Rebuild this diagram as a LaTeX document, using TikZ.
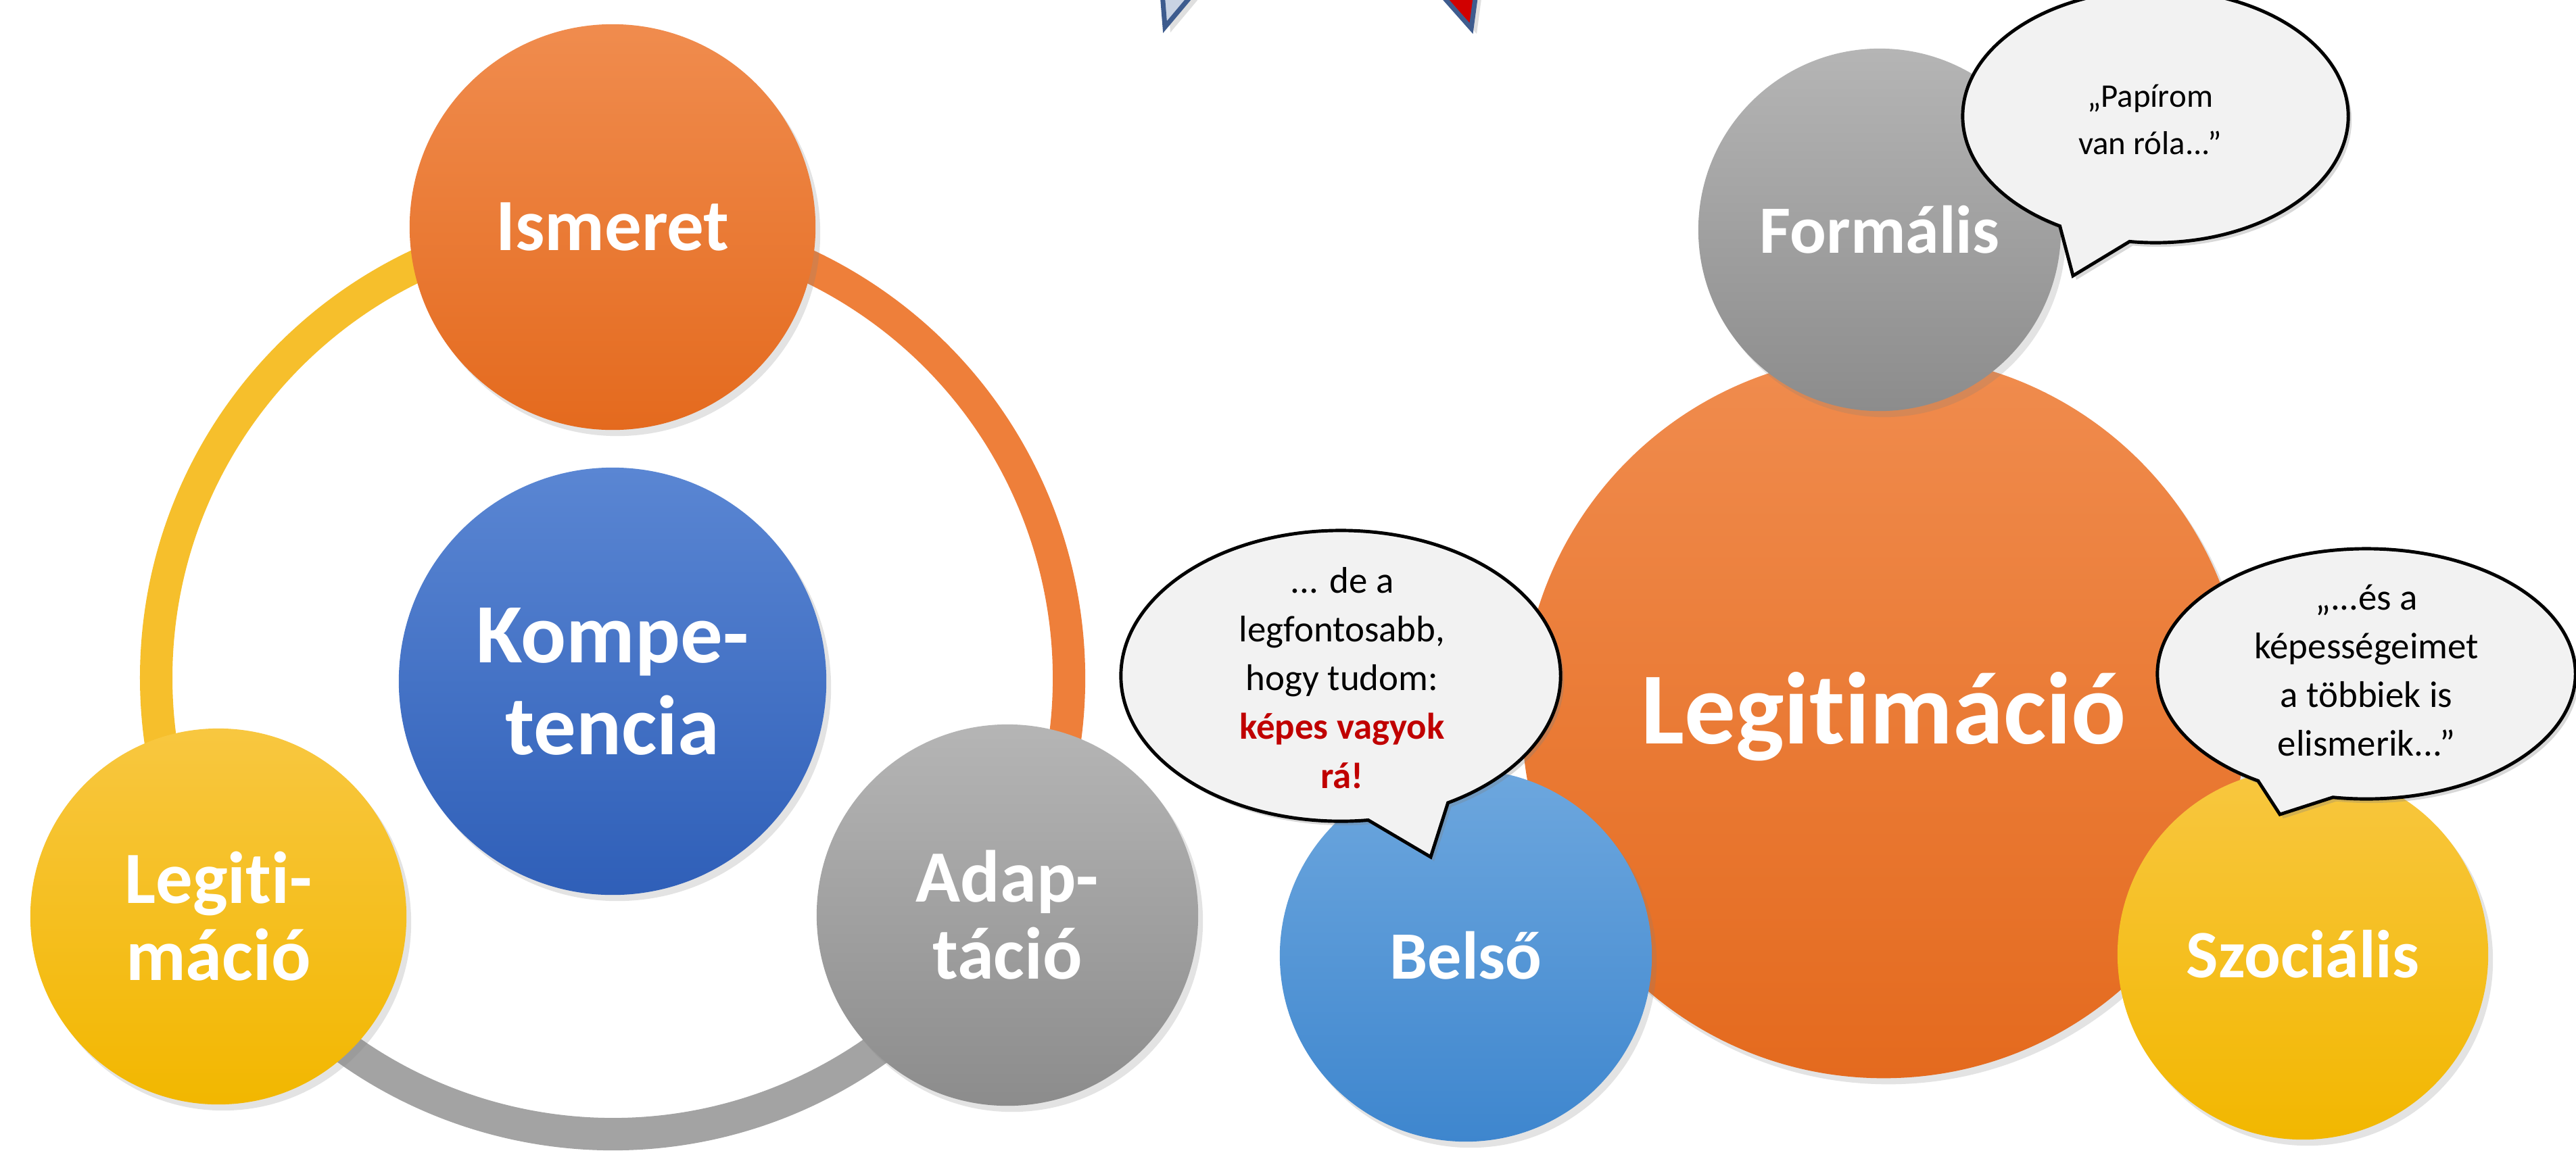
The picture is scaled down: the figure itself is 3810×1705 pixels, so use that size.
\documentclass[tikz,border=0pt]{standalone}
\usepackage{fontspec}
\setmainfont{Carlito}[Ligatures=NoCommon]
\usetikzlibrary{shapes.callouts,shadows}
\definecolor{orTop}{HTML}{F08C4E}
\definecolor{orBot}{HTML}{E46A1E}
\definecolor{blTop}{HTML}{5A86D3}
\definecolor{blBot}{HTML}{2F5FB8}
\definecolor{yeTop}{HTML}{F8C740}
\definecolor{yeBot}{HTML}{F2B700}
\definecolor{grTop}{HTML}{B5B5B5}
\definecolor{grBot}{HTML}{8C8C8C}
\definecolor{lbTop}{HTML}{6DA7DE}
\definecolor{lbBot}{HTML}{3E86CE}
\definecolor{ringYellow}{HTML}{F6BF2C}
\definecolor{ringOrange}{HTML}{EE7F3A}
\definecolor{ringGray}{HTML}{A3A3A3}
\definecolor{bubbleFill}{HTML}{F2F2F2}
\definecolor{redTxt}{HTML}{C00000}
\definecolor{logoBlue}{HTML}{C9D3E3}
\definecolor{logoNavy}{HTML}{3E5C8E}
\definecolor{logoRed}{HTML}{D10000}
\begin{document}
\begin{tikzpicture}[x=0.01cm,y=-0.01cm,
  ball/.style={circle, inner sep=0pt, text=white, align=center,
    drop shadow={opacity=0.22, shadow xshift=0.07cm, shadow yshift=-0.09cm}},
  orangeball/.style={ball, top color=orTop, bottom color=orBot},
  blueball/.style={ball, top color=blTop, bottom color=blBot},
  yellowball/.style={ball, top color=yeTop, bottom color=yeBot},
  grayball/.style={ball, top color=grTop, bottom color=grBot},
  lightblueball/.style={ball, top color=lbTop, bottom color=lbBot},
  smalllabel/.style={font=\bfseries\fontsize{31}{32.4}\selectfont},
  rightlabel/.style={font=\bfseries\fontsize{28.5}{30}\selectfont},
  ringline/.style={line width=0.48cm},
  bubble/.style={ellipse callout, draw=black, line width=1.4pt, fill=bubbleFill,
    inner sep=0pt, callout pointer arc=22,
    drop shadow={opacity=0.3, shadow xshift=0.05cm, shadow yshift=-0.06cm}},
  btext/.style={align=center, text=black, font=\fontsize{15.6}{20.5}\selectfont},
  logopiece/.style={line width=2pt, line join=miter,
    drop shadow={opacity=0.25, shadow xshift=0.08cm, shadow yshift=-0.08cm}}
]
\useasboundingbox (0,0) rectangle (3810,1705);
\fill[white] (0,0) rectangle (3810,1705);

% cropped logo pieces at the top
\filldraw[logopiece, fill=logoBlue, draw=logoNavy] (1719,-10) -- (1723,40) -- (1765,-10) -- cycle;
\filldraw[logopiece, fill=logoRed, draw=logoNavy] (2130,-10) -- (2176,42) -- (2183,-10) -- cycle;

% ---------------- left diagram ----------------
\coordinate (rc) at (906,1003);
\draw[ringline, ringYellow] (rc) ++(270:675) arc[start angle=270, end angle=149, radius=675];
\draw[ringline, ringGray]   (rc) ++(149:675) arc[start angle=149, end angle=31, radius=675];
\draw[ringline, ringOrange] (rc) ++(31:675)  arc[start angle=31, end angle=-90, radius=675];

\node[orangeball, minimum size=6cm, smalllabel] (ism) at (906,336) {Ismeret};
\node[blueball, minimum size=6.32cm, font=\bfseries\fontsize{35.5}{38.7}\selectfont] (komp) at (906,1008) {Kompe-\\tencia};
\node[yellowball, minimum size=5.56cm, smalllabel] (legl) at (323,1356) {Legiti-\\máció};
\node[grayball, minimum size=5.64cm, smalllabel] (adap) at (1490,1354) {Adap-\\táció};

% ---------------- right diagram ----------------
\node[orangeball, minimum size=10.7cm, font=\bfseries\fontsize{43}{45}\selectfont] (legr) at (2786,1060) {Legitimáció};
\node[grayball, minimum size=5.36cm, rightlabel] (form) at (2780,340) {Formális};
\node[lightblueball, minimum size=5.5cm, rightlabel] (bels) at (2168,1414) {Belső};
\node[yellowball, minimum size=5.48cm, rightlabel] (szoc) at (3406,1412) {Szociális};

% speech bubbles
\node[bubble, minimum width=5.7cm, minimum height=3.74cm,
  callout absolute pointer={(3066,408)}] (b1) at (3188,172) {};
\node[btext, font=\fontsize{13.9}{19.9}\selectfont] (b1t) at (3180,177) {„Papírom\\van róla...”};

\node[bubble, minimum width=6.5cm, minimum height=4.3cm,
  callout absolute pointer={(2116,1268)}] (b2) at (1983,1000) {};
\node[btext] (b2t) at (1985,1003) {... de a\\legfontosabb,\\hogy tudom:\\\textcolor{redTxt}{\textbf{képes vagyok}}\\\textcolor{redTxt}{\textbf{rá!}}};

\node[bubble, minimum width=6.18cm, minimum height=3.7cm,
  callout absolute pointer={(3372,1205)}] (b3) at (3500,997) {};
\node[btext] (b3t) at (3500,992) {„...és a\\képességeimet\\a többiek is\\elismerik...”};
\end{tikzpicture}
\end{document}
